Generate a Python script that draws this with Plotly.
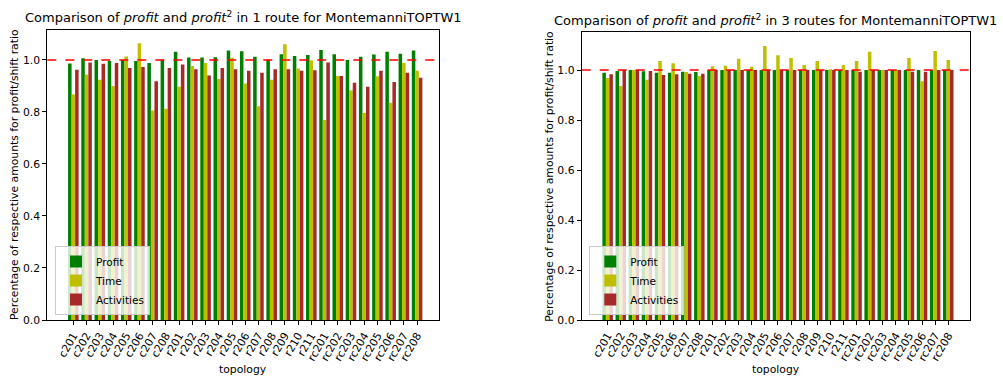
import plotly.graph_objects as go

# Benchmark instances (Solomon-based topologies)
topologies = ["c201", "c202", "c203", "c204", "c205", "c206", "c207", "c208",
              "r201", "r202", "r203", "r204", "r205", "r206", "r207", "r208",
              "r209", "r210", "r211",
              "rc201", "rc202", "rc203", "rc204", "rc205", "rc206", "rc207", "rc208"]

# Ratios profit^2 / profit, 1 route
profit_1 = [0.986, 1.006, 1.000, 0.996, 1.000, 0.996, 0.988, 1.001,
            1.031, 1.009, 1.009, 1.010, 1.036, 1.033, 1.012, 1.001,
            1.022, 1.015, 1.019,
            1.038, 1.022, 1.000, 1.012, 1.021, 1.031, 1.024, 1.036]
time_1 = [0.867, 0.944, 0.924, 0.900, 1.013, 1.064, 0.806, 0.812,
          0.897, 0.977, 0.988, 0.927, 1.008, 0.909, 0.822, 0.924,
          1.060, 0.967, 0.999,
          0.769, 0.938, 0.882, 0.796, 0.937, 0.835, 0.988, 0.958]
activities_1 = [0.962, 0.990, 0.985, 0.988, 0.969, 0.973, 0.918, 0.969,
                0.982, 0.964, 0.940, 0.969, 0.964, 0.958, 0.951, 0.964,
                0.964, 0.958, 0.960,
                0.990, 0.938, 0.912, 0.897, 0.958, 0.915, 0.951, 0.931]

# Ratios profit^2 / profit, 3 routes
profit_3 = [0.989, 0.996, 1.000, 0.995, 0.989, 0.989, 0.993, 0.992,
            1.000, 1.000, 1.000, 1.000, 1.000, 1.000, 1.000, 1.000,
            1.000, 1.000, 1.000,
            1.000, 1.000, 1.000, 1.000, 1.000, 1.000, 1.000, 1.000]
time_3 = [0.968, 0.936, 1.000, 0.961, 1.036, 1.027, 0.992, 0.976,
          1.015, 1.017, 1.045, 1.013, 1.096, 1.059, 1.048, 1.020,
          1.036, 1.003, 1.020,
          1.036, 1.073, 1.000, 1.000, 1.048, 0.955, 1.076, 1.040]
activities_3 = [0.983, 1.000, 1.000, 0.996, 0.980, 0.983, 0.985, 0.985,
                1.000, 1.000, 1.000, 1.000, 1.000, 1.000, 1.000, 1.000,
                1.000, 1.000, 1.000,
                0.993, 1.000, 1.000, 1.000, 0.993, 0.993, 1.000, 1.000]

series_names = ["Profit", "Time", "Activities"]
series_colors = ["#008000", "#bfbf00", "#a52a2a"]

FONT = "DejaVu Sans"
W, H = 1003, 378
TICK_SIZE = 10.8
LABEL_SIZE = 10.8
TITLE_SIZE = 13
LEGEND_SIZE = 10.5

fig = go.Figure()

panels = [
    ("x", "y", "legend", [profit_1, time_1, activities_1]),
    ("x2", "y2", "legend2", [profit_3, time_3, activities_3]),
]
for xa, ya, leg, data in panels:
    for name, color, vals in zip(series_names, series_colors, data):
        fig.add_trace(go.Bar(
            x=topologies, y=vals, name=name, marker_color=color,
            marker_line_width=0, xaxis=xa, yaxis=ya, legend=leg,
            offsetgroup=name,
        ))

# Axis boxes in pixels: (left, right, top, bottom)
boxes = [(47.3, 439.3, 29.5, 320.0), (581.7, 970.0, 32.3, 320.0)]
y_tops = [1.117, 1.151]
x_ranges = [[-1.97, 27.68], [-1.98, 27.66]]
title_y = [17, 20]
legend_x = [55, 589.3]

axis_common = dict(
    showline=True, linecolor="black", linewidth=1, mirror=True,
    ticks="outside", ticklen=4, tickcolor="black", showgrid=False,
    zeroline=False, automargin=False,
    tickfont=dict(family=FONT, size=TICK_SIZE, color="black"),
)

layout = dict(
    width=W, height=H, margin=dict(l=0, r=0, t=0, b=0, autoexpand=False),
    paper_bgcolor="white", plot_bgcolor="white",
    barmode="group", bargap=0.2, bargroupgap=0.0,
    font=dict(family=FONT, size=TICK_SIZE, color="black"),
    showlegend=True,
)

titles = [
    "Comparison of <i>profit</i> and <i>profit</i><sup>2</sup> in 1 route for MontemanniTOPTW1",
    "Comparison of <i>profit</i> and <i>profit</i><sup>2</sup> in 3 routes for MontemanniTOPTW1",
]
annotations = []
shapes = []
for i, ((l, r, t, b), ytop, xr, title, ty) in enumerate(
        zip(boxes, y_tops, x_ranges, titles, title_y)):
    sfx = "" if i == 0 else str(i + 1)
    layout["xaxis" + sfx] = dict(
        domain=[l / W, r / W], anchor="y" + sfx, range=xr, type="category",
        tickangle=-60, **axis_common,
    )
    layout["yaxis" + sfx] = dict(
        domain=[(H - b) / H, (H - t) / H], anchor="x" + sfx, range=[0, ytop],
        tickvals=[0, 0.2, 0.4, 0.6, 0.8, 1.0], tickformat=".1f", **axis_common,
    )
    cx = (l + r) / 2 / W
    annotations.append(dict(
        text=title, xref="paper", yref="paper", x=cx, y=(H - ty) / H,
        xanchor="center", yanchor="middle", showarrow=False,
        font=dict(family=FONT, size=TITLE_SIZE, color="black"),
    ))
    annotations.append(dict(
        text="topology", xref="paper", yref="paper", x=cx, y=(H - 369) / H,
        xanchor="center", yanchor="middle", showarrow=False,
        font=dict(family=FONT, size=LABEL_SIZE, color="black"),
    ))
    annotations.append(dict(
        text="Percentage of respective amounts for profit/shift ratio",
        xref="paper", yref="paper", x=(l - 33) / W, y=(H - (t + b) / 2) / H,
        xanchor="center", yanchor="middle", textangle=-90, showarrow=False,
        font=dict(family=FONT, size=LABEL_SIZE, color="black"),
    ))
    # reference line at ratio 1.0
    shapes.append(dict(
        type="line", xref="x" + sfx + " domain", yref="y" + sfx,
        x0=0, x1=1, y0=1.0, y1=1.0,
        line=dict(color="red", width=1.5, dash="dash"),
    ))

legend_common = dict(
    bgcolor="rgba(255,255,255,0.8)", bordercolor="#cccccc", borderwidth=1,
    font=dict(family=FONT, size=LEGEND_SIZE, color="black"),
    xanchor="left", yanchor="bottom", tracegroupgap=0, itemwidth=30,
)
for i, lx in enumerate(legend_x):
    key = "legend" if i == 0 else "legend2"
    layout[key] = dict(x=lx / W, y=(H - 315) / H, **legend_common)
layout["annotations"] = annotations
layout["shapes"] = shapes

fig.update_layout(**layout)
fig.write_html("out.html")
